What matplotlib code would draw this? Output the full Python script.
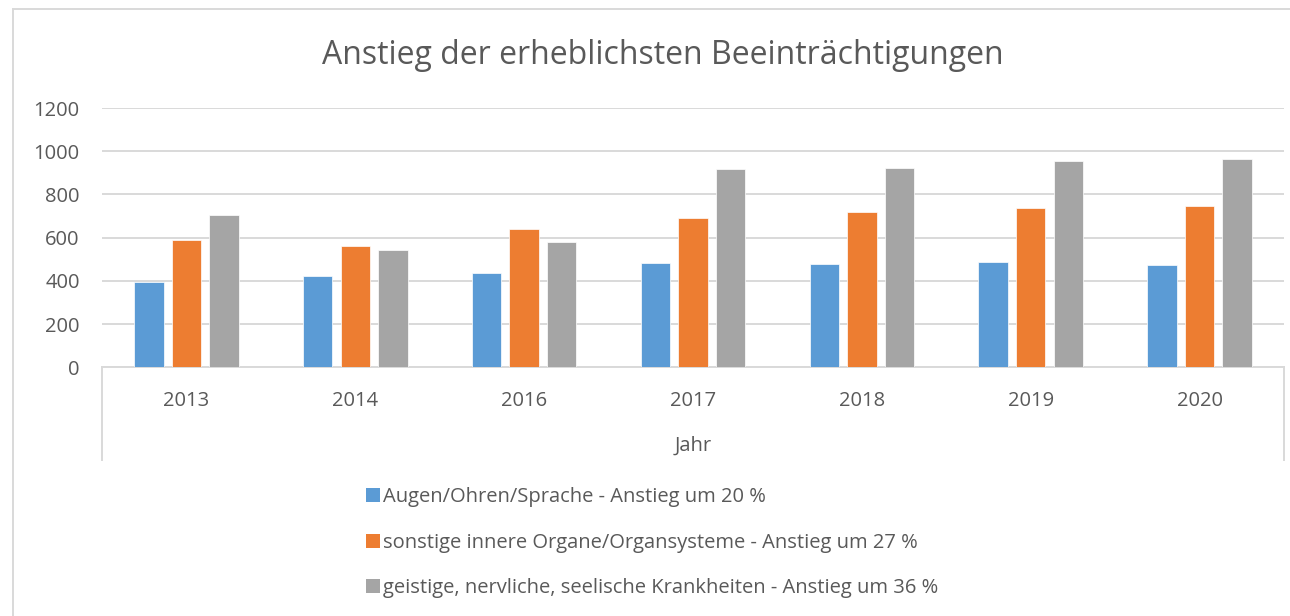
import numpy as np
import matplotlib
matplotlib.use('Agg')
import matplotlib.pyplot as plt
from matplotlib.lines import Line2D
from matplotlib.patches import Patch

# Data
years = ['2013', '2014', '2016', '2017', '2018', '2019', '2020']
augen = [395, 421, 438, 481, 478, 489, 475]
organe = [589, 563, 640, 692, 721, 738, 746]
geistig = [704, 541, 581, 917, 924, 957, 963]
labels = ['Augen/Ohren/Sprache - Anstieg um 20 %',
          'sonstige innere Organe/Organsysteme - Anstieg um 27 %',
          'geistige, nervliche, seelische Krankheiten - Anstieg um 36 %']
colors = ['#5B9BD5', '#ED7D31', '#A5A5A5']

plt.rcParams['font.family'] = ['Open Sans', 'DejaVu Sans']
txt = '#595959'
grid = '#D9D9D9'

fig = plt.figure(figsize=(12.9, 6.16), dpi=100)
W, H = 1290, 616
ax = fig.add_axes([102 / W, 1 - 367.3 / H, (1284 - 102) / W, (367.3 - 108) / H])

x = np.arange(len(years))
step = 0.2225
width = 0.1735
for i, vals in enumerate([augen, organe, geistig]):
    ax.bar(x + (i - 1) * step, vals, width, color=colors[i],
           edgecolor='white', linewidth=0.5, zorder=3)

ax.set_xlim(-0.5, len(years) - 0.5)
ax.set_ylim(0, 1200)
ax.set_yticks(range(0, 1201, 200))
ax.set_xticks(x)
ax.set_xticklabels(years)
ax.yaxis.grid(True, color=grid, linewidth=1.4, zorder=0)
ax.tick_params(axis='both', length=0, colors=txt, labelsize=14.5)
ax.tick_params(axis='x', pad=17)
ax.tick_params(axis='y', pad=16)
for s in ['top', 'right', 'left']:
    ax.spines[s].set_visible(False)
ax.spines['bottom'].set_color(grid)
ax.spines['bottom'].set_linewidth(1.4)

# box around the category axis
depth = (460 - 367.3) / (367.3 - 108)
for xx in [0, 1]:
    ax.add_line(Line2D([xx, xx], [0, -depth], transform=ax.transAxes,
                       color=grid, linewidth=1.4, clip_on=False))

ax.set_xlabel('Jahr', color=txt, fontsize=14.5, labelpad=18)

fig.text(663 / W, 1 - 56 / H, 'Anstieg der erheblichsten Beeinträchtigungen',
         ha='center', va='center', color=txt, fontsize=23)

# outer chart border (left and top visible)
fig.add_artist(Line2D([13 / W, 13 / W], [0, 1 - 8.5 / H], transform=fig.transFigure,
                      color=grid, linewidth=1.4))
fig.add_artist(Line2D([13 / W, 1], [1 - 8.5 / H, 1 - 8.5 / H], transform=fig.transFigure,
                      color=grid, linewidth=1.4))

handles = [Patch(facecolor=c, edgecolor='none') for c in colors]
fig.legend(handles, labels, loc='upper left', bbox_to_anchor=(348 / W, 1 - 469 / H),
           frameon=False, fontsize=14.5, labelcolor=txt, handlelength=0.68,
           handleheight=0.68, handletextpad=0.15, labelspacing=1.27)

fig.savefig('out.png', dpi=100)
